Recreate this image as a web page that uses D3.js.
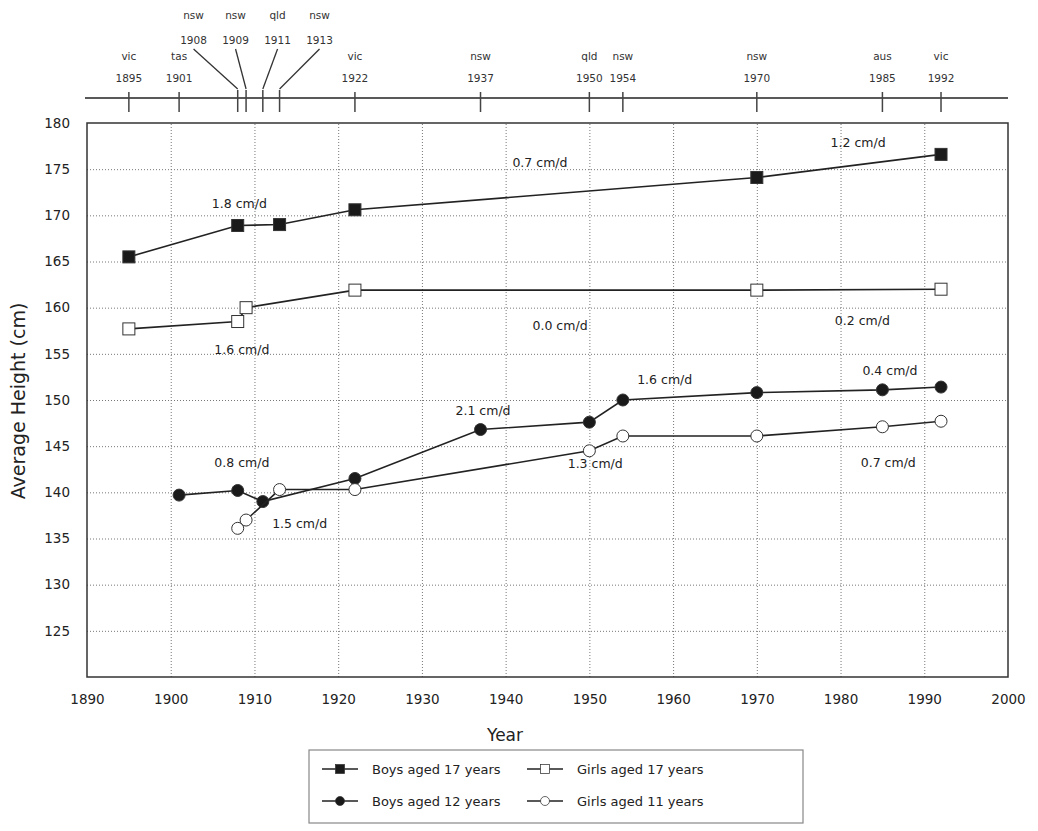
<!DOCTYPE html>
<html>
<head>
<meta charset="utf-8">
<script src="https://cdn.jsdelivr.net/npm/d3@7"></script>
<style>
  body { margin: 0; background: #fff; }
  svg { font-family: "DejaVu Sans", Verdana, sans-serif; }
  .grid line { stroke: #777; stroke-dasharray: 1,2; stroke-width: 1; }
  .grid .domain { display: none; }
  .axis .domain { display: none; }
  .axis text { font-family: "DejaVu Sans", Verdana, sans-serif; font-size: 13.5px; fill: #222; }
  .rate { font-size: 12.5px; fill: #222; text-anchor: middle; }
  .survey text { font-size: 10.5px; fill: #333; text-anchor: middle; }
</style>
</head>
<body>
<svg width="1038" height="831"></svg>
<script>
// survey years shown on the top axis
const surveyYears = [1895, 1901, 1908, 1909, 1911, 1913, 1922, 1937, 1950, 1954, 1970, 1985, 1992];
const surveyStates = ["vic", "tas", "nsw", "nsw", "qld", "nsw", "vic", "nsw", "qld", "nsw", "nsw", "aus", "vic"];

const boys17Years = [1895, 1908, 1913, 1922, 1970, 1992];
const boys17 = [165.5, 168.9, 169.0, 170.6, 174.1, 176.6];

const girls17Years = [1895, 1908, 1909, 1922, 1970, 1992];
const girls17 = [157.7, 158.5, 160.0, 161.9, 161.9, 162.0];

const boys12Years = [1901, 1908, 1911, 1922, 1937, 1950, 1954, 1970, 1985, 1992];
const boys12 = [139.7, 140.2, 139.0, 141.5, 146.8, 147.6, 150.0, 150.8, 151.1, 151.4];

const girls11Years = [1908, 1909, 1913, 1922, 1950, 1954, 1970, 1985, 1992];
const girls11 = [136.1, 137.0, 140.3, 140.3, 144.5, 146.1, 146.1, 147.1, 147.7];

const seriesNames = ["Boys aged 17 years", "Girls aged 17 years", "Boys aged 12 years", "Girls aged 11 years"];

// rate annotations: text, year, height
const rateText = ["1.8 cm/d", "0.7 cm/d", "1.2 cm/d", "0.0 cm/d", "0.2 cm/d", "1.6 cm/d", "1.6 cm/d",
                  "0.4 cm/d", "2.1 cm/d", "0.8 cm/d", "1.3 cm/d", "0.7 cm/d", "1.5 cm/d"];
const rateYear = [1908.2, 1944.1, 1982.1, 1946.5, 1982.6, 1908.5, 1959.0, 1985.9, 1937.3, 1908.5, 1950.7, 1985.7, 1915.4];
const rateValue = [171.3, 175.8, 177.9, 158.1, 158.7, 155.5, 152.3, 153.2, 148.9, 143.3, 143.2, 143.3, 136.7];

const xTicks = d3.range(1890, 2001, 10);
const yTicks = d3.range(125, 181, 5);

const svg = d3.select("svg");
const mLeft = 87, mRight = 1008, mTop = 123, mBottom = 677;

const x = d3.scaleLinear().domain([1890, 2000]).range([mLeft, mRight]);
const y = d3.scaleLinear().domain([120, 180]).range([mBottom, mTop]);

// grid
svg.append("g").attr("class", "grid")
  .attr("transform", `translate(0,${mBottom})`)
  .call(d3.axisBottom(x).tickValues(xTicks.slice(1, -1)).tickSize(-(mBottom - mTop)).tickFormat(""));
svg.append("g").attr("class", "grid")
  .attr("transform", `translate(${mLeft},0)`)
  .call(d3.axisLeft(y).tickValues(yTicks.slice(0, -1)).tickSize(-(mRight - mLeft)).tickFormat(""));

svg.append("rect")
  .attr("x", mLeft).attr("y", mTop)
  .attr("width", mRight - mLeft).attr("height", mBottom - mTop)
  .attr("fill", "none").attr("stroke", "#333").attr("stroke-width", 1.5);

// axes
svg.append("g").attr("class", "axis")
  .attr("transform", `translate(0,${mBottom})`)
  .call(d3.axisBottom(x).tickValues(xTicks).tickSize(0).tickPadding(17).tickFormat(d3.format("d")));
svg.append("g").attr("class", "axis")
  .attr("transform", `translate(${mLeft},0)`)
  .call(d3.axisLeft(y).tickValues(yTicks).tickSize(0).tickPadding(17));

svg.append("text").attr("x", 505).attr("y", 741)
  .attr("text-anchor", "middle").attr("font-size", 17).attr("fill", "#222").text("Year");
svg.append("text")
  .attr("transform", "translate(25,401) rotate(-90)")
  .attr("text-anchor", "middle").attr("font-size", 19).attr("fill", "#222")
  .text("Average Height (cm)");

// top survey axis
const topY = 98;
const surv = svg.append("g").attr("class", "survey");
surv.append("line").attr("x1", mLeft - 2).attr("x2", mRight).attr("y1", topY).attr("y2", topY)
  .attr("stroke", "#222").attr("stroke-width", 1.5);

const surveys = surveyYears.map((yr, i) => ({ yr, st: surveyStates[i] }));
// surveys within 2 years of a neighbour get raised labels with leader lines
surveys.forEach((d, i) => {
  const prev = surveys[i - 1], next = surveys[i + 1];
  d.raised = (prev && d.yr - prev.yr <= 2) || (next && next.yr - d.yr <= 2);
});
const raised = surveys.filter(d => d.raised);
const mid = d3.mean(raised, d => x(d.yr));
raised.forEach((d, i) => { d.lx = mid + (i - (raised.length - 1) / 2) * 42; });

surv.selectAll("line.tick").data(surveys).join("line")
  .attr("class", "tick")
  .attr("x1", d => x(d.yr)).attr("x2", d => x(d.yr))
  .attr("y1", d => d.raised ? topY - 8 : topY - 6).attr("y2", topY + 14)
  .attr("stroke", "#444").attr("stroke-width", 1.5);

surv.selectAll("path.leader").data(raised).join("path")
  .attr("class", "leader")
  .attr("d", d => `M${d.lx},${49}L${x(d.yr)},${topY - 9}`)
  .attr("fill", "none").attr("stroke", "#333").attr("stroke-width", 1.3);

surv.selectAll("text.st").data(surveys).join("text")
  .attr("class", "st")
  .attr("x", d => d.raised ? d.lx : x(d.yr))
  .attr("y", d => d.raised ? 19 : 60)
  .text(d => d.st);
surv.selectAll("text.yr").data(surveys).join("text")
  .attr("class", "yr")
  .attr("x", d => d.raised ? d.lx : x(d.yr))
  .attr("y", d => d.raised ? 44 : 82)
  .text(d => d.yr);

// series
const series = [
  { name: seriesNames[0], years: boys17Years, vals: boys17, shape: "square", fill: "#1a1a1a" },
  { name: seriesNames[1], years: girls17Years, vals: girls17, shape: "square", fill: "#fff" },
  { name: seriesNames[2], years: boys12Years, vals: boys12, shape: "circle", fill: "#1a1a1a" },
  { name: seriesNames[3], years: girls11Years, vals: girls11, shape: "circle", fill: "#fff" }
];

const line = d3.line().x(d => x(d[0])).y(d => y(d[1]));

function drawMarker(g, shape, fill) {
  if (shape === "square") {
    g.append("rect").attr("x", -6).attr("y", -6).attr("width", 12).attr("height", 12)
      .attr("fill", fill).attr("stroke", "#333").attr("stroke-width", 1);
  } else {
    g.append("circle").attr("r", 6)
      .attr("fill", fill).attr("stroke", "#333").attr("stroke-width", 1);
  }
}

series.forEach(s => {
  const pts = s.years.map((yr, i) => [yr, s.vals[i]]);
  svg.append("path").datum(pts).attr("d", line)
    .attr("fill", "none").attr("stroke", "#222").attr("stroke-width", 1.6);
  svg.append("g").selectAll("g").data(pts).join("g")
    .attr("transform", d => `translate(${x(d[0])},${y(d[1])})`)
    .each(function () { drawMarker(d3.select(this), s.shape, s.fill); });
});

// rate annotations
svg.append("g").selectAll("text").data(rateText).join("text")
  .attr("class", "rate")
  .attr("x", (d, i) => x(rateYear[i]))
  .attr("y", (d, i) => y(rateValue[i]) + 5)
  .text(d => d);

// legend
const lg = svg.append("g");
lg.append("rect").attr("x", 309).attr("y", 750).attr("width", 494).attr("height", 73)
  .attr("fill", "none").attr("stroke", "#888").attr("stroke-width", 1.2);
series.forEach((s, k) => {
  const col = k % 2, row = Math.floor(k / 2);
  const gx = 322 + col * 205, gy = 769 + row * 32;
  const g = lg.append("g").attr("transform", `translate(${gx},${gy})`);
  g.append("line").attr("x1", 0).attr("x2", 36).attr("stroke", "#222").attr("stroke-width", 1.5);
  const m = g.append("g").attr("transform", "translate(18,0) scale(0.75)");
  drawMarker(m, s.shape, s.fill);
  g.append("text").attr("x", 50).attr("y", 5).attr("font-size", 13).attr("fill", "#222").text(s.name);
});
</script>
</body>
</html>
